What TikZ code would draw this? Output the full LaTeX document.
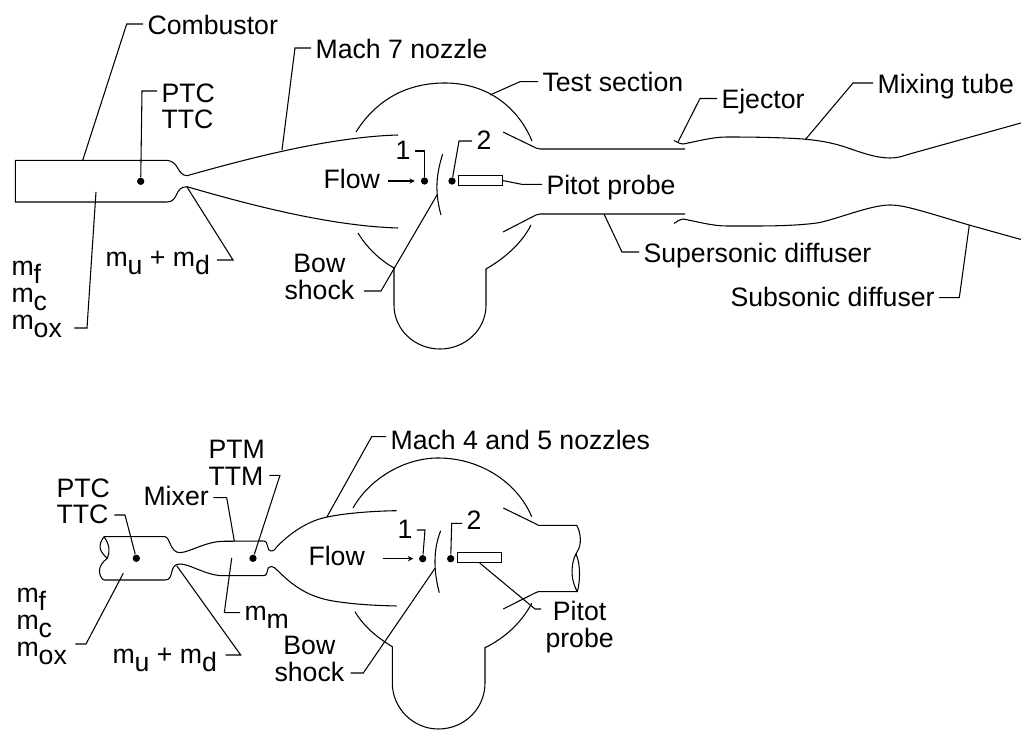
\documentclass[tikz,border=0pt]{standalone}
\usepackage{fontspec}
\setmainfont{Liberation Sans}
\usepackage{tikz}
\usetikzlibrary{arrows}
\newcommand{\lowsub}[1]{\raisebox{-6pt}[0pt][0pt]{#1}}

\begin{document}
\begin{tikzpicture}[
            x = 0.75pt,
            y = -0.75pt,
            > = stealth, % arrow head style
            line width = 0.8pt
        ]

        \tikzstyle{lbl}=[
            font = \fontsize{20}{20}\selectfont,
            inner sep = 3pt,
            anchor = base west
        ]
        \tikzstyle{lblstack}=[
            lbl,
            align = left,
            anchor = north west
        ]
        \tikzstyle{sensor}=[
            circle,
            fill = black,
            inner sep = 0pt,
            minimum size = 5.5pt
        ]
        \tikzstyle{probe}=[
            draw,
            inner sep = 0pt,
            minimum width = 33pt,
            minimum height = 7.6pt
        ]

        \useasboundingbox (0,0) rectangle (1021,730);

        % top tunnel: combustor and nozzle
        \draw (187,175.7) .. controls (176,175) and (180,160.3) .. (165,160.3) -- (15.3,160.3) -- (15.3,202) -- (167,202) .. controls (179,202) and (174,186.7) .. (187,186.7);
        \draw (187,175.7) .. controls (250,158) and (330,137) .. (398,135);
        \draw (187,186.7) .. controls (250,205) and (330,226) .. (398,228);

        % top tunnel: test section
        \draw (356,132) .. controls (378,97) and (410,83) .. (445,83) .. controls (485,83) and (517,105) .. (532,141);
        \draw (358,233) .. controls (367,248) and (380,260) .. (394,268) -- (394,305) .. controls (394,330) and (415,349) .. (440,349) .. controls (465,349) and (486,330) .. (486,305) -- (486,269) .. controls (505,258) and (522,243) .. (531,225);

        % top tunnel: diffusers
        \draw (503,132) -- (536,148) -- (540,149) -- (685,149);
        \draw (503,232) -- (536,215) -- (540,214) -- (685,214);
        \draw (674,140.5) -- (680,143.5) -- (683,144) .. controls (697,141.5) and (712,137) .. (727,137) .. controls (755,137) and (780,137.5) .. (803,139) .. controls (825,141) and (835,144) .. (842,146) .. controls (860,152) and (875,158) .. (890,158) .. controls (900,158) and (905,155) .. (915,152.5) -- (1021,123);
        \draw (674,223.5) .. controls (678,221) and (680,219) .. (683,219) .. controls (697,221.5) and (712,226) .. (727,226) .. controls (760,226) and (790,226.5) .. (817,223) .. controls (835,220) and (870,205) .. (890,205) .. controls (905,205) and (925,212) .. (969,225) -- (1021,239.5);
        \draw (442.7,154) .. controls (437,172) and (434,190) .. (441,215);

        % top tunnel: sensors
        \node[sensor] (dotTc) at (140.7,181.3) {};
        \node[sensor] (dotTa) at (424.5,181) {};
        \node[sensor] (dotTb) at (452,181) {};
        \node[probe] (probeT) at (480.5,180.5) {};

        % top tunnel: labels
        \node[lbl] (lblComb) at (143,35) {Combustor};
        \node[lbl] (lblNozT) at (311,58.3) {Mach 7 nozzle};
        \node[lblstack] (lblPtcT) at (157,79) {PTC\\TTC};
        \node[lbl] (lblMudT) at (101,266.7) {m\lowsub{u} + m\lowsub{d}};
        \node[lblstack] (lblMfT) at (7,257) {m\lowsub{f}\\m\lowsub{c}\\m\lowsub{ox}};
        \node[lbl] (lblFlowT) at (319,188.3) {Flow};
        \node[lbl] (lblOneT) at (391,160) {1};
        \node[lbl] (lblTwoT) at (472,150) {2};
        \node[lbl] (lblPitT) at (542,194.3) {Pitot probe};
        \node[lblstack, align=center] (lblBowT) at (280,250) {Bow\\shock};
        \node[lbl] (lblTest) at (538,91.7) {Test section};
        \node[lbl] (lblEject) at (717,108.3) {Ejector};
        \node[lbl] (lblMixT) at (873,93.3) {Mixing tube};
        \node[lbl] (lblSup) at (639,262.7) {Supersonic diffuser};
        \node[lbl] (lblSub) at (726,306.7) {Subsonic diffuser};

        % top tunnel: leader bends and ends
        \coordinate (bComb) at (126.7,24);
        \coordinate (tComb) at (82.7,160.3);
        \coordinate (bNozT) at (295,48);
        \coordinate (tNozT) at (282,150);
        \coordinate (bPtcT) at (142,91);
        \coordinate (bMudT) at (233,260);
        \coordinate (tMudT) at (187,187);
        \coordinate (bMfT) at (87,328);
        \coordinate (tMfT) at (96,192);
        \coordinate (bOneT) at (424.5,151);
        \coordinate (bTwoT) at (459,141);
        \coordinate (bPitT) at (521.7,184.3);
        \coordinate (tPitT) at (502.5,180.5);
        \coordinate (bBowT) at (381,291);
        \coordinate (tBowT) at (437,195);
        \coordinate (bTest) at (520,81.7);
        \coordinate (tTest) at (490,95);
        \coordinate (bEject) at (700,98.5);
        \coordinate (tEject) at (678,142);
        \coordinate (bMixT) at (853,83);
        \coordinate (tMixT) at (805,140);
        \coordinate (bSup) at (622,252);
        \coordinate (tSup) at (604,214);
        \coordinate (bSub) at (959.3,297.7);
        \coordinate (tSub) at (969.3,225);

        \draw (lblComb.west |- bComb) -- (bComb) -- (tComb);
        \draw (lblNozT.west |- bNozT) -- (bNozT) -- (tNozT);
        \draw (lblPtcT.west |- bPtcT) -- (bPtcT) -- (dotTc);
        \draw[shorten <=2pt] (lblMudT.east |- bMudT) -- (bMudT) -- (tMudT);
        \draw[shorten <=6pt] (lblMfT.east |- bMfT) -- (bMfT) -- (tMfT);
        \draw (lblOneT.east |- bOneT) -- (bOneT) -- (dotTa);
        \draw (lblTwoT.west |- bTwoT) -- (bTwoT) -- (dotTb);
        \draw (lblPitT.west |- bPitT) -- (bPitT) -- (tPitT);
        \draw[shorten <=4pt] (lblBowT.east |- bBowT) -- (bBowT) -- (tBowT);
        \draw (lblTest.west |- bTest) -- (bTest) -- (tTest);
        \draw (lblEject.west |- bEject) -- (bEject) -- (tEject);
        \draw (lblMixT.west |- bMixT) -- (bMixT) -- (tMixT);
        \draw (lblSup.west |- bSup) -- (bSup) -- (tSup);
        \draw (lblSub.east |- bSub) -- (bSub) -- (tSub);
        \draw[->, shorten <=3pt, shorten >=4pt] (lblFlowT.east |- dotTa) -- (dotTa);

        % bottom tunnel: combustor, mixer and nozzle
        \draw (104,536.7) -- (165,536.7) .. controls (170,537) and (170,552.7) .. (180,552.7) .. controls (190,552) and (205,542) .. (222,541.3) -- (263,541) .. controls (270,541) and (265,551) .. (272,551) .. controls (274,551) and (275,549) .. (277,546.7) .. controls (290,533) and (308,521) .. (326,517.3) .. controls (345,513) and (375,511) .. (396.7,510.7);
        \draw (103.5,580) -- (165,580) .. controls (175,580) and (168,564) .. (180,564) .. controls (190,564) and (205,575) .. (222,575.7) -- (263,575.7) .. controls (270,575.7) and (265,566.5) .. (271,566.5) .. controls (274,566.5) and (275,568) .. (277,570) .. controls (295,588) and (310,597) .. (333,601) .. controls (355,604.5) and (375,605.5) .. (396.7,606);
        \draw (104,536.7) .. controls (97,546) and (100,552) .. (107.3,558.3) .. controls (97,566) and (98,575) .. (103.5,580);
        \draw (104,536.7) .. controls (110,545) and (110,552) .. (107.3,558.3);

        % bottom tunnel: test section
        \draw (353,508) .. controls (370,478) and (405,458) .. (438,458) .. controls (480,458) and (517,482) .. (531.7,516.7);
        \draw (355,611.7) .. controls (364,627) and (378,638) .. (392.3,646.7) -- (392.3,683) .. controls (392.3,708) and (413,729) .. (438.3,729) .. controls (465,729) and (485,708) .. (485,683) -- (485,647.7) .. controls (505,638) and (522,622) .. (531.7,603.3);

        % bottom tunnel: diffuser end
        \draw (503.3,508) -- (535,523.5) -- (538.3,525.3) -- (576.7,525.3) .. controls (581,533) and (582,545) .. (577,552) .. controls (573,558) and (568,575) .. (577.3,591.7) -- (538.3,591.7) -- (535,593) -- (503.3,609);
        \draw (576,554) .. controls (581,565) and (580,582) .. (577.3,591.7);
        \draw (440.7,530.7) .. controls (435,545) and (432,565) .. (439.3,592.7);

        % bottom tunnel: sensors
        \node[sensor] (dotBc) at (136.3,558.3) {};
        \node[sensor] (dotBm) at (253,558.3) {};
        \node[sensor] (dotBa) at (422.7,558.7) {};
        \node[sensor] (dotBb) at (450.7,558.7) {};
        \node[probe] (probeB) at (479.8,557.5) {};

        % bottom tunnel: labels
        \node[lblstack] (lblPtcB) at (52,474) {PTC\\TTC};
        \node[lblstack] (lblPtm) at (204,436) {PTM\\TTM};
        \node[lbl] (lblMixer) at (139,505.7) {Mixer};
        \node[lbl] (lblNozB) at (386,450) {Mach 4 and 5 nozzles};
        \node[lbl] (lblFlowB) at (304,565.7) {Flow};
        \node[lbl] (lblOneB) at (393,538.3) {1};
        \node[lbl] (lblTwoB) at (462,530) {2};
        \node[lblstack, align=center] (lblPitB) at (541,597) {Pitot\\probe};
        \node[lblstack, align=center] (lblBowB) at (270,632) {Bow\\shock};
        \node[lbl] (lblMm) at (240,620) {m\lowsub{m}};
        \node[lblstack] (lblMfB) at (12,584) {m\lowsub{f}\\m\lowsub{c}\\m\lowsub{ox}};
        \node[lbl] (lblMudB) at (108,663.3) {m\lowsub{u} + m\lowsub{d}};

        % bottom tunnel: leader bends and ends
        \coordinate (bPtcB) at (125,515);
        \coordinate (bPtm) at (280,475.3);
        \coordinate (bMixer) at (226.7,497.7);
        \coordinate (tMixer) at (234.3,541);
        \coordinate (bNozB) at (371.7,436.7);
        \coordinate (tNozB) at (326.7,517.3);
        \coordinate (bOneB) at (425,530);
        \coordinate (bTwoB) at (451.7,523.3);
        \coordinate (bPitB) at (535,609);
        \coordinate (bBowB) at (363.3,673);
        \coordinate (tBowB) at (435,568.3);
        \coordinate (bMm) at (224.3,612.7);
        \coordinate (tMm) at (231.7,558);
        \coordinate (bMfB) at (86,644);
        \coordinate (tMfB) at (123.3,573.3);
        \coordinate (bMudB) at (240.7,655);
        \coordinate (tMudB) at (176.7,565.7);

        \draw (lblPtcB.east |- bPtcB) -- (bPtcB) -- (dotBc);
        \draw (lblPtm.east |- bPtm) -- (bPtm) -- (dotBm);
        \draw (lblMixer.east |- bMixer) -- (bMixer) -- (tMixer);
        \draw (lblNozB.west |- bNozB) -- (bNozB) -- (tNozB);
        \draw (lblOneB.east |- bOneB) -- (bOneB) -- (dotBa);
        \draw (lblTwoB.west |- bTwoB) -- (bTwoB) -- (dotBb);
        \draw (lblPitB.west |- bPitB) -- (bPitB) -- (probeB.south);
        \draw[shorten <=1.5pt] (lblBowB.east |- bBowB) -- (bBowB) -- (tBowB);
        \draw (lblMm.west |- bMm) -- (bMm) -- (tMm);
        \draw[shorten <=3pt] (lblMfB.east |- bMfB) -- (bMfB) -- (tMfB);
        \draw[shorten <=3pt] (lblMudB.east |- bMudB) -- (bMudB) -- (tMudB);
        \draw[->, shorten <=10pt, shorten >=4pt] (lblFlowB.east |- dotBa) -- (dotBa);

\end{tikzpicture}
\end{document}
